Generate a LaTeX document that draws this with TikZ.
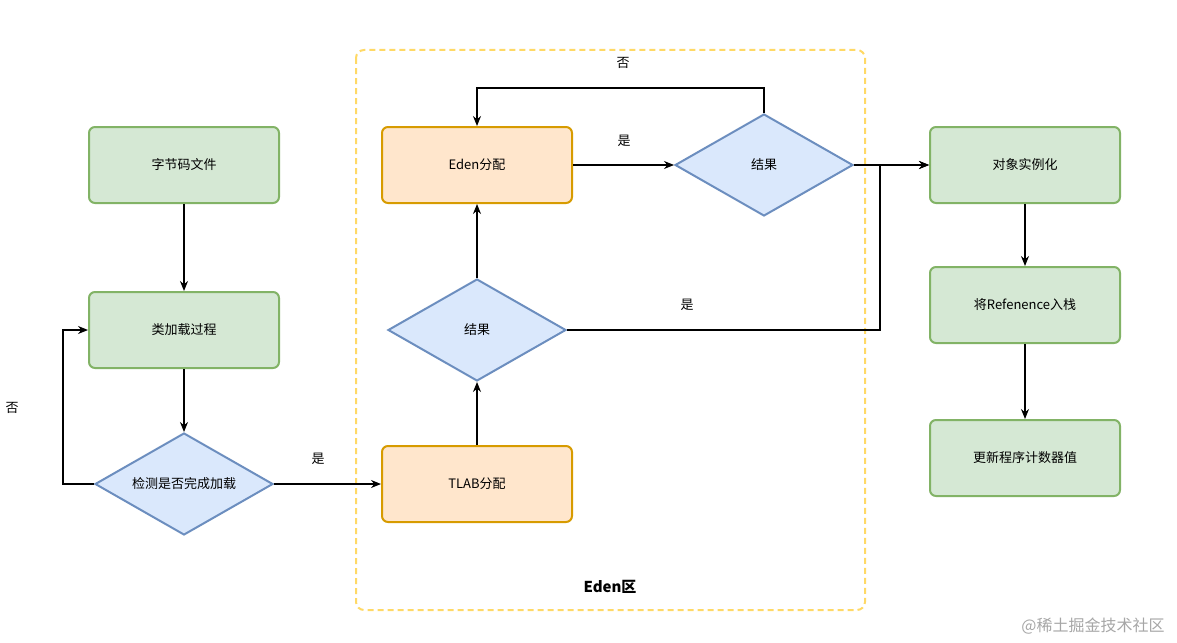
\documentclass[tikz,border=0pt]{standalone}
\usepackage{fontspec}
\setmainfont{Noto Sans CJK SC}
\usetikzlibrary{shapes.geometric, arrows.meta}
\definecolor{gfill}{HTML}{D5E8D4}
\definecolor{gline}{HTML}{82B366}
\definecolor{ofill}{HTML}{FFE6CC}
\definecolor{oline}{HTML}{D79B00}
\definecolor{bfill}{HTML}{DAE8FC}
\definecolor{bline}{HTML}{6C8EBF}
\definecolor{yline}{HTML}{FFD966}
\tikzset{
  every node/.style={font=\fontsize{13}{15}\selectfont},
  box/.style={rectangle, rounded corners=6pt, line width=2pt, minimum width=190pt, minimum height=76pt},
  green box/.style={box, fill=gfill, draw=gline},
  orange box/.style={box, fill=ofill, draw=oline},
  check/.style={diamond, aspect=1.75, fill=bfill, draw=bline, line width=2pt, minimum width=178pt, minimum height=102pt, inner sep=0pt},
  flow/.style={-{Stealth[length=10pt,width=8pt]}, line width=1.3pt}
}
\begin{document}
\begin{tikzpicture}[x=1pt, y=-1pt]
  \useasboundingbox (0,0) rectangle (1177,642);
  % Eden area
  \draw[yline, line width=2pt, dash pattern=on 6pt off 4pt, rounded corners=8pt] (356,50) rectangle (865,610);
  \node[font=\bfseries\fontsize{15}{17}\selectfont] (edenlabel) at (610,587) {Eden区};
  % nodes
  \node[green box] (bytecode) at (184,165) {字节码文件};
  \node[green box] (classload) at (184,330) {类加载过程};
  \node[check] (loaded) at (184,484) {检测是否完成加载};
  \node[orange box] (tlab) at (477,484) {TLAB分配};
  \node[check] (result1) at (477,330) {结果};
  \node[orange box] (eden) at (477,165) {Eden分配};
  \node[check] (result2) at (764,165) {结果};
  \node[green box] (instance) at (1025,165) {对象实例化};
  \node[green box] (pushref) at (1025,305) {将Refenence入栈};
  \node[green box] (counter) at (1025,458) {更新程序计数器值};
  \coordinate (backleft) at (63,484);
  \coordinate (backtop) at (764,88);
  \coordinate (joinright) at (880,330);
  % connectors
  \draw[flow] (bytecode) -- (classload);
  \draw[flow] (classload) -- (loaded);
  \draw[flow] (loaded.west) -- (backleft) |- (classload.west);
  \node (no1) at (12,408) {否};
  \draw[flow] (loaded.east) -- (tlab.west);
  \node (yes1) at (318,459) {是};
  \draw[flow] (tlab) -- (result1);
  \draw[flow] (result1) -- (eden);
  \draw[flow] (eden) -- (result2);
  \node (yes2) at (624,141) {是};
  \draw[flow] (result2.north) -- (backtop) -| (eden.north);
  \node (no2) at (623,63) {否};
  \draw[flow] (result2.east) -- (instance.west);
  \draw[flow] (result1.east) -- (joinright) |- (instance.west);
  \node (yes3) at (687,305) {是};
  \draw[flow] (instance) -- (pushref);
  \draw[flow] (pushref) -- (counter);
  \node[text=gray!70, font=\fontsize{16}{18}\selectfont] (mark) at (1093,626) {@稀土掘金技术社区};
\end{tikzpicture}
\end{document}
